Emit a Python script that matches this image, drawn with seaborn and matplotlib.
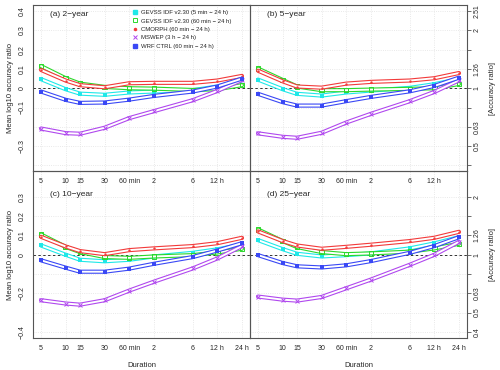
import numpy as np
import pandas as pd
import matplotlib
matplotlib.use("Agg")
import matplotlib.pyplot as plt
from matplotlib.lines import Line2D
import seaborn as sns

durations = [5, 10, 15, 30, 60, 120, 360, 720, 1440]
dur_labels = ["5", "10", "15", "30", "60 min", "2", "6", "12 h", "24 h"]

series_names = [
    "GEVSS IDF v2.30 (5 min \u2212 24 h)",
    "GEVSS IDF v2.30 (60 min \u2212 24 h)",
    "CMORPH (60 min \u2212 24 h)",
    "MSWEP (3 h \u2212 24 h)",
    "WRF CTRL (60 min \u2212 24 h)",
]
panel_titles = ["(a) 2\u2212year", "(b) 5\u2212year", "(c) 10\u2212year", "(d) 25\u2212year"]

# (a) 2-year
idf5_2y = [0.047, -0.005, -0.028, -0.034, -0.022, -0.017, -0.010, 0.009, 0.041]
idf60_2y = [0.115, 0.052, 0.024, 0.007, 0.000, -0.002, -0.009, -0.005, 0.016]
cmorph_2y = [0.095, 0.040, 0.016, 0.005, 0.026, 0.028, 0.028, 0.040, 0.064]
mswep_2y = [-0.209, -0.233, -0.236, -0.205, -0.155, -0.119, -0.062, -0.014, 0.043]
wrf_2y = [-0.017, -0.060, -0.076, -0.074, -0.059, -0.040, -0.017, 0.009, 0.050]

# (b) 5-year
idf5_5y = [0.045, -0.005, -0.029, -0.038, -0.022, -0.012, 0.002, 0.021, 0.048]
idf60_5y = [0.102, 0.043, 0.009, -0.010, -0.010, -0.007, -0.003, 0.000, 0.022]
cmorph_5y = [0.091, 0.036, 0.009, 0.003, 0.024, 0.033, 0.040, 0.052, 0.079]
mswep_5y = [-0.234, -0.252, -0.257, -0.231, -0.178, -0.133, -0.067, -0.019, 0.041]
wrf_5y = [-0.029, -0.072, -0.090, -0.090, -0.067, -0.045, -0.016, 0.012, 0.055]

# (c) 10-year
idf5_10y = [0.048, 0.000, -0.026, -0.034, -0.026, -0.009, 0.010, 0.028, 0.053]
idf60_10y = [0.105, 0.041, 0.014, -0.012, -0.016, -0.009, -0.002, 0.012, 0.031]
cmorph_10y = [0.093, 0.043, 0.019, 0.003, 0.024, 0.033, 0.045, 0.060, 0.088]
mswep_10y = [-0.236, -0.253, -0.259, -0.236, -0.186, -0.140, -0.071, -0.019, 0.045]
wrf_10y = [-0.029, -0.067, -0.088, -0.088, -0.072, -0.047, -0.012, 0.022, 0.060]

# (d) 25-year
idf5_25y = [0.076, 0.029, 0.005, -0.009, -0.002, 0.007, 0.033, 0.059, 0.091]
idf60_25y = [0.131, 0.071, 0.040, 0.014, 0.003, 0.007, 0.016, 0.033, 0.057]
cmorph_25y = [0.121, 0.071, 0.048, 0.031, 0.041, 0.052, 0.071, 0.088, 0.119]
mswep_25y = [-0.217, -0.233, -0.238, -0.219, -0.174, -0.129, -0.052, 0.000, 0.067]
wrf_25y = [-0.002, -0.043, -0.060, -0.066, -0.055, -0.033, 0.010, 0.045, 0.091]

panels = [
    [idf5_2y, idf60_2y, cmorph_2y, mswep_2y, wrf_2y],
    [idf5_5y, idf60_5y, cmorph_5y, mswep_5y, wrf_5y],
    [idf5_10y, idf60_10y, cmorph_10y, mswep_10y, wrf_10y],
    [idf5_25y, idf60_25y, cmorph_25y, mswep_25y, wrf_25y],
]

# tick labels as printed on each side (some skipped in the original)
top_left_yt = ["", "\u22120.3", "", "\u22120.1", "0", "0.1", "0.2", "0.3", "0.4"]
bot_left_yt = ["\u22120.4", "", "\u22120.2", "", "0", "0.1", "0.2", "0.3"]
top_right_yt = ["", "0.5", "0.63", "", "1", "1.26", "", "2", "2.51"]
bot_right_yt = ["0.4", "0.5", "0.63", "", "1", "1.26", "", "2"]

rows = []
for p, series in enumerate(panels):
    for name, vals in zip(series_names, series):
        for d, v in zip(durations, vals):
            rows.append({"panel": p, "series": name, "duration": d, "value": v})
df = pd.DataFrame(rows)

colors = ["#1FE8E8", "#2BD82B", "#F23A3A", "#B048EE", "#3A48F5"]
msizes = [6, 10, 3, 8, 9]

sns.set_style("white")
plt.rcParams["font.family"] = ["Liberation Sans", "DejaVu Sans"]

fig, axes = plt.subplots(2, 2, figsize=(5, 3.7), dpi=100)
fig.subplots_adjust(left=0.066, right=0.934, bottom=0.0865, top=0.9865,
                    wspace=0, hspace=0)

xpad = 10 ** (0.04 * np.log10(1440 / 5))
axs = axes.ravel()
for p, ax in enumerate(axs):
    sub = df[df["panel"] == p]
    ax.set_facecolor("none")
    ax.set_xscale("log")
    ax.axhline(0, color="#333333", ls=(0, (2.5, 2.5)), lw=0.7, zorder=1)
    for i, name in enumerate(series_names):
        s = sub[sub["series"] == name]
        sns.lineplot(data=s, x="duration", y="value", color=colors[i], lw=3.0,
                     ax=ax, zorder=2 + i, legend=False)
        sns.lineplot(data=s, x="duration", y="value", color="white", lw=1.4,
                     ax=ax, zorder=2 + i, legend=False)
        if i == 1:
            sns.scatterplot(data=s, x="duration", y="value", marker="s", s=msizes[i],
                            facecolor="none", edgecolor=colors[i], linewidth=0.7,
                            ax=ax, zorder=2 + i, legend=False)
        elif i == 3:
            sns.scatterplot(data=s, x="duration", y="value", marker="x", s=msizes[i],
                            color=colors[i], linewidth=0.7, ax=ax, zorder=2 + i,
                            legend=False)
        else:
            sns.scatterplot(data=s, x="duration", y="value",
                            marker="o" if i == 2 else "s",
                            s=msizes[i], color=colors[i], linewidth=0, ax=ax,
                            zorder=2 + i, legend=False)

    ax.set_xlim(5 / xpad, 1440 * xpad)
    ax.set_ylim(-0.432, 0.432)
    ax.set_xticks(durations)
    ax.minorticks_off()
    ax.set_xticklabels(dur_labels if p >= 2 else dur_labels[:-1] + [""])
    ax.grid(True, color="#e2e2e2", ls=":", lw=0.6)
    ax.set_axisbelow(True)
    for sp in ax.spines.values():
        sp.set_color("#555555")
        sp.set_linewidth(0.8)
    ax.tick_params(axis="both", direction="out", length=3, width=0.6,
                   color="#555555", labelsize=5, pad=2)
    ax.set_xlabel("Duration" if p >= 2 else "", fontsize=5.5, labelpad=7)

    if p % 2 == 0:
        yt = np.round(np.arange(-0.4, 0.41, 0.1), 1) if p == 0 else np.round(np.arange(-0.4, 0.31, 0.1), 1)
        ax.set_yticks(yt)
        ax.set_yticklabels(top_left_yt if p == 0 else bot_left_yt)
        plt.setp(ax.get_yticklabels(), rotation=90, va="center", ha="right")
        ax.set_ylabel("Mean log10 accuracy ratio", fontsize=5.5, labelpad=4)
    else:
        yt = np.round(np.arange(-0.4, 0.41, 0.1), 1) if p == 1 else np.round(np.arange(-0.4, 0.31, 0.1), 1)
        ax.set_yticks(yt)
        ax.yaxis.tick_right()
        ax.yaxis.set_label_position("right")
        ax.set_yticklabels(top_right_yt if p == 1 else bot_right_yt)
        plt.setp(ax.get_yticklabels(), rotation=90, va="center", ha="left")
        ax.set_ylabel("[Accuracy ratio]", fontsize=5.5, labelpad=6)

    title_y = 0.94 if p < 2 else 0.86
    ax.text(0.08, title_y, panel_titles[p], transform=ax.transAxes,
            fontsize=6, va="center", ha="left", zorder=10)

for ax in axs[:2]:
    ax.set_zorder(2)

handles = [
    Line2D([], [], ls="none", marker="s", ms=2.5, color=colors[0]),
    Line2D([], [], ls="none", marker="s", ms=3.2, mfc="none", mec=colors[1], mew=0.7),
    Line2D([], [], ls="none", marker="o", ms=1.5, color=colors[2]),
    Line2D([], [], ls="none", marker="x", ms=2.6, color=colors[3], mew=0.7),
    Line2D([], [], ls="none", marker="s", ms=3.2, color=colors[4]),
]
axs[0].legend(handles, series_names, loc="upper left", bbox_to_anchor=(0.45, 0.985),
              frameon=False, fontsize=4.3, handlelength=0.8, handletextpad=0.5,
              labelspacing=0.55, borderaxespad=0)

fig.savefig("out.png", dpi=100, facecolor="white")
